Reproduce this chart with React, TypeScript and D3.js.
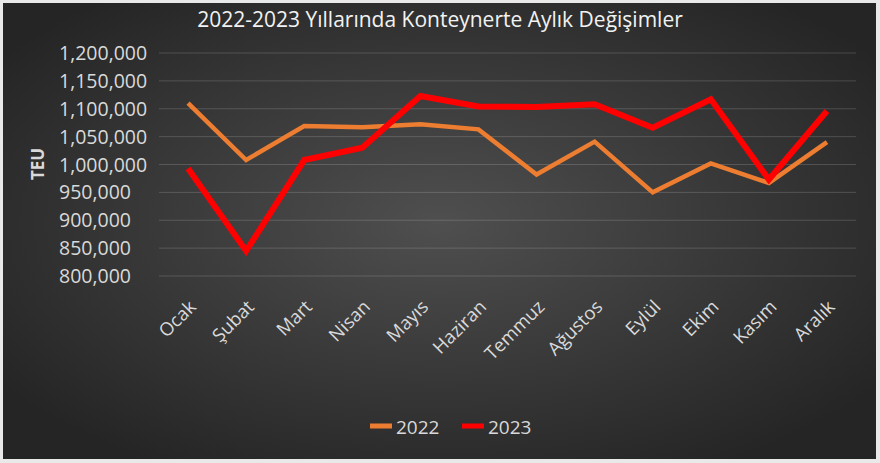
import React from 'react'
import * as d3 from 'd3'

const months = ['Ocak', 'Şubat', 'Mart', 'Nisan', 'Mayıs', 'Haziran', 'Temmuz', 'Ağustos', 'Eylül', 'Ekim', 'Kasım', 'Aralık']
const teu2022 = [1110000, 1008000, 1069000, 1067000, 1072000, 1063000, 982000, 1041000, 950000, 1002000, 967000, 1040000]
const teu2023 = [993000, 845000, 1008000, 1030000, 1123000, 1104000, 1103000, 1108000, 1066000, 1117000, 973000, 1096000]
const yTicks = [800000, 850000, 900000, 950000, 1000000, 1050000, 1100000, 1150000, 1200000]
const seriesNames = ['2022', '2023']
const seriesColors = ['#ED7D31', '#FF0000']

const W = 880
const H = 463
const FONT = '"Open Sans", sans-serif'
const TEXT = '#d9d9d9'

export default function App() {
  const x = d3.scalePoint<string>().domain(months).range([159, 856]).padding(0.5)
  const y = d3.scaleLinear().domain([800000, 1200000]).range([276, 53])
  const fmt = d3.format(',')

  const line = d3
    .line<number>()
    .x((_, i) => x(months[i]) ?? 0)
    .y((d) => y(d))

  const series = [teu2022, teu2023]

  return (
    <svg width={W} height={H} style={{ position: 'absolute', left: 0, top: 0 }}>
      <defs>
        <radialGradient id="bg" cx="50%" cy="48%" r="62%">
          <stop offset="0%" stopColor="#4f4f4f" />
          <stop offset="100%" stopColor="#252525" />
        </radialGradient>
      </defs>
      <rect x={0} y={0} width={W} height={H} fill="#e9e9e9" />
      <rect x={3} y={3} width={873} height={456} fill="url(#bg)" />

      <text x={440} y={27} textAnchor="middle" fill="#f2f2f2" fontFamily={FONT} fontSize={21}>
        2022-2023 Yıllarında Konteynerte Aylık Değişimler
      </text>

      {/* grid + y labels */}
      {yTicks.map((t) => (
        <g key={t}>
          <line x1={159} x2={856} y1={y(t)} y2={y(t)} stroke="#ffffff" strokeOpacity={0.16} strokeWidth={1} />
          <text x={59} y={y(t)} dy="0.36em" fill={TEXT} fontFamily={FONT} fontSize={19.5}>
            {fmt(t)}
          </text>
        </g>
      ))}

      <text
        transform={`translate(38,164) rotate(-90)`}
        textAnchor="middle"
        dy="0.36em"
        fill={TEXT}
        fontFamily={FONT}
        fontWeight="bold"
        fontSize={17}
      >
        TEU
      </text>

      {/* x labels */}
      {months.map((m) => (
        <text
          key={m}
          transform={`translate(${(x(m) ?? 0) + 9},308) rotate(-45)`}
          textAnchor="end"
          fill={TEXT}
          fontFamily={FONT}
          fontSize={18.5}
        >
          {m}
        </text>
      ))}

      {/* lines */}
      {series.map((s, i) => (
        <path
          key={seriesNames[i]}
          d={line(s) ?? ''}
          fill="none"
          stroke={seriesColors[i]}
          strokeWidth={i === 0 ? 4.5 : 6}
          strokeLinejoin="miter"
        />
      ))}

      {/* legend */}
      {seriesNames.map((n, i) => (
        <g key={n} transform={`translate(${370 + i * 92},0)`}>
          <rect x={0} y={423.5} width={22} height={5} fill={seriesColors[i]} />
          <text x={26} y={434} fill={TEXT} fontFamily={FONT} fontSize={19}>
            {n}
          </text>
        </g>
      ))}
    </svg>
  )
}
